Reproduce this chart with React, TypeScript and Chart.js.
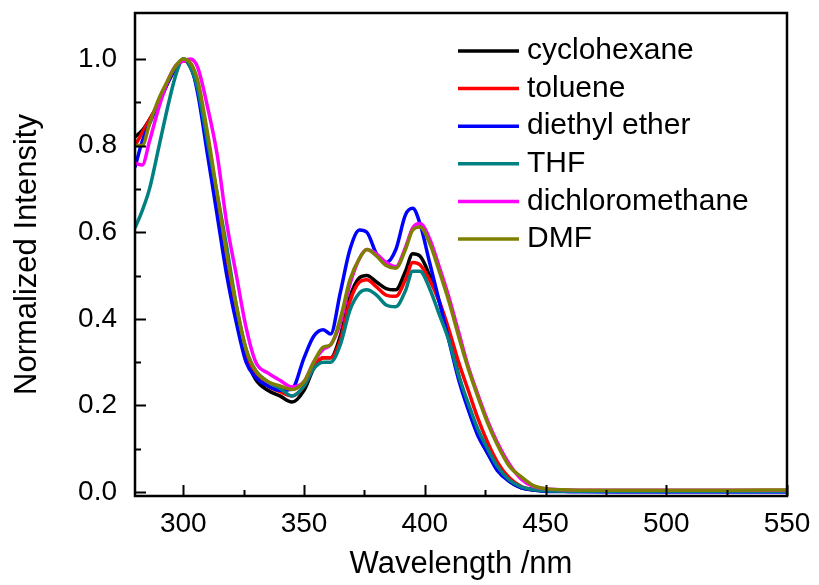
import React, { useEffect, useRef } from "react";
import { Chart, registerables } from "chart.js";

Chart.register(...registerables);

const wavelengths = [280, 283, 286, 290, 294, 297, 300, 303, 306, 310, 314, 318, 322, 326, 330, 335, 340, 345, 350, 354, 358, 361, 365, 369, 373, 376, 380, 384, 388, 392, 395, 398, 402, 406, 410, 414, 418, 422, 426, 430, 435, 440, 445, 450, 460, 480, 500, 525, 550];

const cyclohexane = [0.82, 0.835, 0.86, 0.90, 0.95, 0.98, 1.0, 0.98, 0.93, 0.80, 0.66, 0.52, 0.40, 0.31, 0.26, 0.235, 0.222, 0.208, 0.235, 0.285, 0.31, 0.31, 0.36, 0.45, 0.495, 0.50, 0.485, 0.47, 0.467, 0.51, 0.55, 0.545, 0.50, 0.44, 0.36, 0.27, 0.195, 0.135, 0.09, 0.055, 0.025, 0.01, 0.005, 0.003, 0.002, 0.002, 0.002, 0.002, 0.002];
const toluene = [0.80, 0.83, 0.86, 0.90, 0.95, 0.98, 0.995, 0.99, 0.94, 0.82, 0.68, 0.54, 0.42, 0.32, 0.27, 0.245, 0.232, 0.222, 0.245, 0.29, 0.31, 0.31, 0.35, 0.44, 0.485, 0.49, 0.474, 0.455, 0.452, 0.49, 0.53, 0.525, 0.49, 0.44, 0.375, 0.30, 0.235, 0.17, 0.115, 0.07, 0.033, 0.013, 0.006, 0.004, 0.003, 0.003, 0.003, 0.003, 0.003];
const diethylEther = [0.75, 0.81, 0.85, 0.90, 0.95, 0.98, 0.998, 0.985, 0.92, 0.78, 0.64, 0.50, 0.39, 0.30, 0.265, 0.245, 0.235, 0.238, 0.31, 0.36, 0.375, 0.365, 0.46, 0.56, 0.605, 0.60, 0.55, 0.53, 0.56, 0.64, 0.655, 0.62, 0.53, 0.44, 0.35, 0.26, 0.19, 0.13, 0.09, 0.05, 0.025, 0.01, 0.005, 0.002, 0.001, 0.0, 0.0, 0.0, 0.0];
const thf = [0.61, 0.65, 0.70, 0.80, 0.90, 0.965, 1.0, 0.98, 0.93, 0.81, 0.69, 0.565, 0.43, 0.33, 0.28, 0.255, 0.24, 0.222, 0.245, 0.285, 0.30, 0.30, 0.34, 0.42, 0.46, 0.467, 0.455, 0.432, 0.428, 0.465, 0.51, 0.51, 0.47, 0.41, 0.35, 0.27, 0.205, 0.145, 0.10, 0.06, 0.028, 0.012, 0.006, 0.003, 0.002, 0.002, 0.002, 0.002, 0.002];
const dichloromethane = [0.76, 0.755, 0.81, 0.89, 0.955, 0.985, 0.995, 1.0, 0.98, 0.89, 0.78, 0.62, 0.50, 0.38, 0.30, 0.275, 0.258, 0.243, 0.255, 0.30, 0.33, 0.34, 0.39, 0.48, 0.54, 0.56, 0.55, 0.53, 0.52, 0.565, 0.61, 0.62, 0.585, 0.52, 0.45, 0.37, 0.29, 0.225, 0.165, 0.115, 0.065, 0.03, 0.013, 0.008, 0.005, 0.004, 0.004, 0.004, 0.004];
const dmf = [0.80, 0.80, 0.85, 0.91, 0.955, 0.985, 1.0, 0.99, 0.95, 0.83, 0.69, 0.55, 0.43, 0.33, 0.28, 0.255, 0.245, 0.237, 0.255, 0.30, 0.335, 0.34, 0.40, 0.49, 0.54, 0.56, 0.545, 0.523, 0.517, 0.56, 0.605, 0.612, 0.575, 0.51, 0.44, 0.36, 0.285, 0.22, 0.16, 0.11, 0.06, 0.035, 0.015, 0.008, 0.005, 0.004, 0.004, 0.004, 0.005];

const seriesLabels = ["cyclohexane", "toluene", "diethyl ether", "THF", "dichloromethane", "DMF"];
const seriesValues = [cyclohexane, toluene, diethylEther, thf, dichloromethane, dmf];
const seriesColors = ["#000000", "#ff0000", "#0000ff", "#008080", "#ff00ff", "#808000"];

const xMajorTicks = [300, 350, 400, 450, 500, 550];
const xMinorTicks = [325, 375, 425, 475, 525];
const yMajorTicks = [0, 0.2, 0.4, 0.6, 0.8, 1.0];
const yMinorTicks = [0.1, 0.3, 0.5, 0.7, 0.9];

const xTitle = "Wavelength /nm";
const yTitle = "Normalized Intensity";

const FONT = "Arial, 'Liberation Sans', sans-serif";

const framePlugin = {
  id: "frameAndLegend",
  afterDraw(chart: any) {
    const { ctx, chartArea: a, scales } = chart;
    ctx.save();
    ctx.strokeStyle = "#000";
    ctx.lineWidth = 2.5;
    ctx.strokeRect(a.left, a.top, a.right - a.left, a.bottom - a.top);
    ctx.lineWidth = 2;
    ctx.beginPath();
    for (const v of xMajorTicks) {
      const x = Math.round(scales.x.getPixelForValue(v)) + 0.5;
      ctx.moveTo(x, a.bottom);
      ctx.lineTo(x, a.bottom - 11);
    }
    for (const v of xMinorTicks) {
      const x = Math.round(scales.x.getPixelForValue(v)) + 0.5;
      ctx.moveTo(x, a.bottom);
      ctx.lineTo(x, a.bottom - 6);
    }
    for (const v of yMajorTicks) {
      const y = Math.round(scales.y.getPixelForValue(v)) + 0.5;
      ctx.moveTo(a.left, y);
      ctx.lineTo(a.left + 11, y);
    }
    for (const v of yMinorTicks) {
      const y = Math.round(scales.y.getPixelForValue(v)) + 0.5;
      ctx.moveTo(a.left, y);
      ctx.lineTo(a.left + 6, y);
    }
    ctx.stroke();

    // legend
    const ds = chart.data.datasets;
    ctx.font = `30px ${FONT}`;
    ctx.textBaseline = "middle";
    ctx.textAlign = "left";
    ds.forEach((d: any, i: number) => {
      const y = 51 + i * 37.6;
      ctx.strokeStyle = d.borderColor;
      ctx.lineWidth = 3.5;
      ctx.beginPath();
      ctx.moveTo(458, y);
      ctx.lineTo(519, y);
      ctx.stroke();
      ctx.fillStyle = "#000";
      ctx.fillText(d.label, 527, y);
    });
    ctx.restore();
  },
};

export default function App() {
  const ref = useRef<HTMLCanvasElement | null>(null);
  useEffect(() => {
    if (!ref.current) return;
    const chart = new Chart(ref.current, {
      type: "line",
      data: {
        datasets: seriesLabels.map((label, i) => ({
          label,
          data: wavelengths.map((w, j) => ({ x: w, y: seriesValues[i][j] })),
          borderColor: seriesColors[i],
          backgroundColor: seriesColors[i],
          borderWidth: 3.5,
          pointRadius: 0,
          fill: false,
          cubicInterpolationMode: "monotone" as const,
          order: seriesLabels.length - 1 - i,
        })),
      },
      options: {
        responsive: false,
        animation: false,
        devicePixelRatio: 1,
        layout: { padding: { left: 0, top: 13, right: 32, bottom: 0 } },
        plugins: { legend: { display: false }, tooltip: { enabled: false } },
        scales: {
          x: {
            type: "linear",
            min: 280,
            max: 550,
            grid: { display: false, drawTicks: false },
            border: { display: false },
            afterBuildTicks: (scale: any) => {
              scale.ticks = xMajorTicks.map((v) => ({ value: v }));
            },
            afterFit: (scale: any) => {
              scale.height = 89;
              scale.paddingLeft = 0;
              scale.paddingRight = 0;
            },
            ticks: {
              padding: 11,
              color: "#000",
              font: { size: 28, family: FONT },
              maxRotation: 0,
              autoSkip: false,
              callback: (v: any) => String(v),
            },
            title: {
              display: true,
              text: xTitle,
              color: "#000",
              font: { size: 31, family: FONT },
              padding: { top: 0, bottom: 1.5 },
            },
          },
          y: {
            type: "linear",
            min: -0.009,
            max: 1.106,
            grid: { display: false, drawTicks: false },
            border: { display: false },
            afterBuildTicks: (scale: any) => {
              scale.ticks = yMajorTicks.map((v) => ({ value: v }));
            },
            afterFit: (scale: any) => {
              scale.width = 135;
              scale.paddingTop = 0;
              scale.paddingBottom = 0;
            },
            ticks: {
              padding: 18,
              color: "#000",
              font: { size: 28, family: FONT },
              autoSkip: false,
              callback: (v: any) => Number(v).toFixed(1),
            },
            title: {
              display: true,
              text: yTitle,
              color: "#000",
              font: { size: 31, family: FONT },
              padding: { top: 9, bottom: 0 },
            },
          },
        },
      },
      plugins: [framePlugin],
    });
    return () => chart.destroy();
  }, []);
  return (
    <div style={{ position: "fixed", left: 0, top: 0, width: 819, height: 585, background: "#fff" }}>
      <canvas ref={ref} width={819} height={585} style={{ display: "block" }} />
    </div>
  );
}
